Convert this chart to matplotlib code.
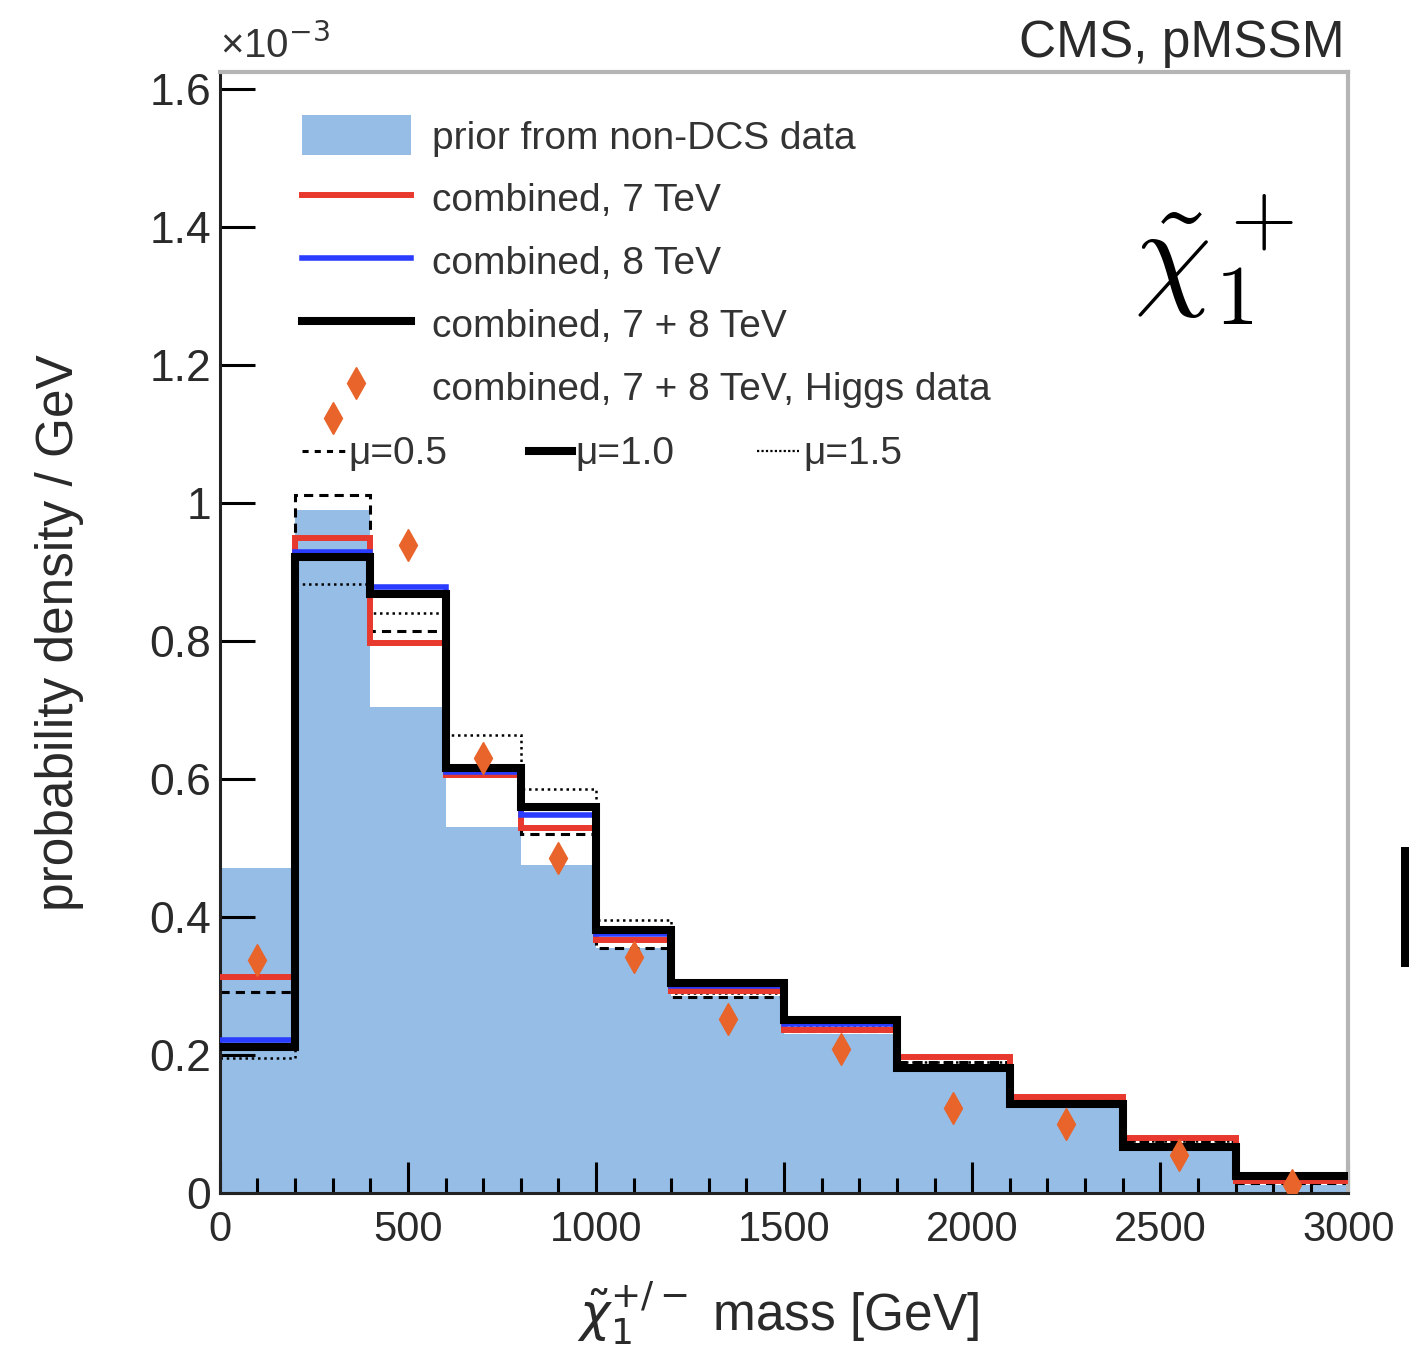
import matplotlib
matplotlib.use("Agg")
import matplotlib.pyplot as plt
import matplotlib.ticker as ticker
from matplotlib.lines import Line2D
from matplotlib.patches import Patch, Rectangle

# bin edges of the chargino mass histogram [GeV]
edges = [0, 200, 400, 600, 800, 1000, 1200, 1500, 1800, 2100, 2400, 2700, 3000]
centers = [100, 300, 500, 700, 900, 1100, 1350, 1650, 1950, 2250, 2550, 2850]

# probability density / GeV, in units of 1e-3
prior = [0.471, 0.990, 0.704, 0.530, 0.475, 0.355, 0.285, 0.230, 0.185, 0.130, 0.070, 0.012]
comb_7 = [0.313, 0.949, 0.797, 0.606, 0.529, 0.367, 0.293, 0.236, 0.197, 0.139, 0.080, 0.017]
comb_8 = [0.222, 0.929, 0.878, 0.610, 0.548, 0.375, 0.300, 0.245, 0.182, 0.130, 0.068, 0.024]
comb_78 = [0.212, 0.922, 0.868, 0.616, 0.559, 0.381, 0.304, 0.251, 0.181, 0.129, 0.067, 0.025]
mu_05 = [0.291, 1.012, 0.814, 0.610, 0.520, 0.355, 0.284, 0.235, 0.190, 0.135, 0.075, 0.015]
mu_15 = [0.196, 0.883, 0.841, 0.664, 0.585, 0.396, 0.290, 0.240, 0.190, 0.135, 0.075, 0.020]
higgs = [0.338, 1.123, 0.939, 0.630, 0.485, 0.342, 0.252, 0.209, 0.123, 0.100, 0.055, 0.012]

yticks = [0, 0.2, 0.4, 0.6, 0.8, 1.0, 1.2, 1.4, 1.6]
ytick_labels = ["0", "0.2", "0.4", "0.6", "0.8", "1", "1.2", "1.4", "1.6"]
xticks = [0, 500, 1000, 1500, 2000, 2500, 3000]

plt.rcParams["font.family"] = ["Liberation Sans", "DejaVu Sans"]

C_PRIOR = "#96bde6"
C_RED = "#e8392e"
C_BLUE = "#2a3cff"
C_ORANGE = "#e8642a"
C_TEXT = "#2a2a2a"

fig = plt.figure(figsize=(14.09, 13.54), dpi=100)
ax = fig.add_axes([0.156, 0.119, 0.801, 0.828])

ax.stairs(prior, edges, fill=True, color=C_PRIOR, zorder=1)
ax.stairs(mu_05, edges, baseline=None, color="black", lw=2.2, ls=(0, (3, 2)), zorder=2)
ax.stairs(mu_15, edges, baseline=None, color="black", lw=1.8, ls=(0, (1, 1.5)), zorder=2)
ax.stairs(comb_7, edges, baseline=None, color=C_RED, lw=4.3, zorder=3)
ax.stairs(comb_8, edges, baseline=None, color=C_BLUE, lw=4.0, zorder=4)
ax.stairs(comb_78, edges, baseline=None, color="black", lw=5.8, zorder=5)
ax.plot(centers, higgs, ls="none", marker="d", ms=16, color=C_ORANGE, mec=C_ORANGE, zorder=6)

ax.set_xlim(0, 3000)
ax.set_ylim(0, 1.625)
ax.set_xticks(xticks)
ax.set_xticklabels([str(x) for x in xticks])
ax.xaxis.set_minor_locator(ticker.MultipleLocator(100))
ax.set_yticks(yticks)
ax.set_yticklabels(ytick_labels)

ax.tick_params(axis="x", which="major", direction="in", length=22, width=2.2,
               labelsize=30, pad=12, labelcolor=C_TEXT)
ax.tick_params(axis="x", which="minor", direction="in", length=11, width=2.2)
ax.tick_params(axis="y", which="major", direction="in", length=25, width=2.2,
               labelsize=32, pad=6, labelcolor=C_TEXT)

for side in ["left", "bottom"]:
    ax.spines[side].set_linewidth(2.2)
    ax.spines[side].set_color("#222222")
for side in ["top", "right"]:
    ax.spines[side].set_linewidth(3)
    ax.spines[side].set_color("#b5b5b5")

ax.set_ylabel("probability density / GeV", fontsize=37, color=C_TEXT)
ax.set_xlabel(r"$\tilde{\chi}_1^{+/-}$ mass [GeV]", fontsize=37, color=C_TEXT)
ax.xaxis.set_label_coords(0.495, -0.078)
ax.yaxis.set_label_coords(-0.12, 0.50)

ax.text(0.0, 1.005, r"×10$^{-3}$", transform=ax.transAxes, fontsize=29,
        ha="left", va="bottom", color="#333333")
ax.text(0.997, 1.003, "CMS, pMSSM", transform=ax.transAxes, fontsize=37,
        ha="right", va="bottom", color=C_TEXT)
ax.text(0.810, 0.772, r"$\tilde{\chi}_1^+$", transform=ax.transAxes, fontsize=88,
        ha="left", va="bottom", math_fontfamily="cm")

handles1 = [
    Patch(facecolor=C_PRIOR, edgecolor="none"),
    Line2D([], [], color=C_RED, lw=4.3),
    Line2D([], [], color=C_BLUE, lw=4.0),
    Line2D([], [], color="black", lw=5.8),
    Line2D([], [], ls="none", marker="d", ms=16, color=C_ORANGE),
]
labels1 = [
    "prior from non-DCS data",
    "combined, 7 TeV",
    "combined, 8 TeV",
    "combined, 7 + 8 TeV",
    "combined, 7 + 8 TeV, Higgs data",
]
leg1 = ax.legend(handles1, labels1, loc="upper left", bbox_to_anchor=(0.0727, 0.961),
                 frameon=False, fontsize=28, handlelength=2.8, handleheight=1.2,
                 handletextpad=0.55, labelspacing=0.56, borderpad=0, borderaxespad=0)
for t in leg1.get_texts():
    t.set_color("#333333")
ax.add_artist(leg1)

handles2 = [
    Line2D([], [], color="black", lw=2.2, ls=(0, (2, 2))),
    Line2D([], [], color="black", lw=5.8),
    Line2D([], [], color="black", lw=1.6, ls=(0, (1, 1))),
]
labels2 = ["μ=0.5", "μ=1.0", "μ=1.5"]
leg2 = ax.legend(handles2, labels2, loc="upper left", bbox_to_anchor=(0.0727, 0.675),
                 frameon=False, fontsize=28, ncol=3, handlelength=1.1,
                 handletextpad=0.1, columnspacing=2.1, borderpad=0, borderaxespad=0)
for t in leg2.get_texts():
    t.set_color("#333333")

# black bar at the right edge of the original image
fig.add_artist(Rectangle((0.9943, 0.2858), 0.0057, 0.0886, transform=fig.transFigure,
                         facecolor="black", edgecolor="none"))

fig.savefig("out.png", dpi=100)
